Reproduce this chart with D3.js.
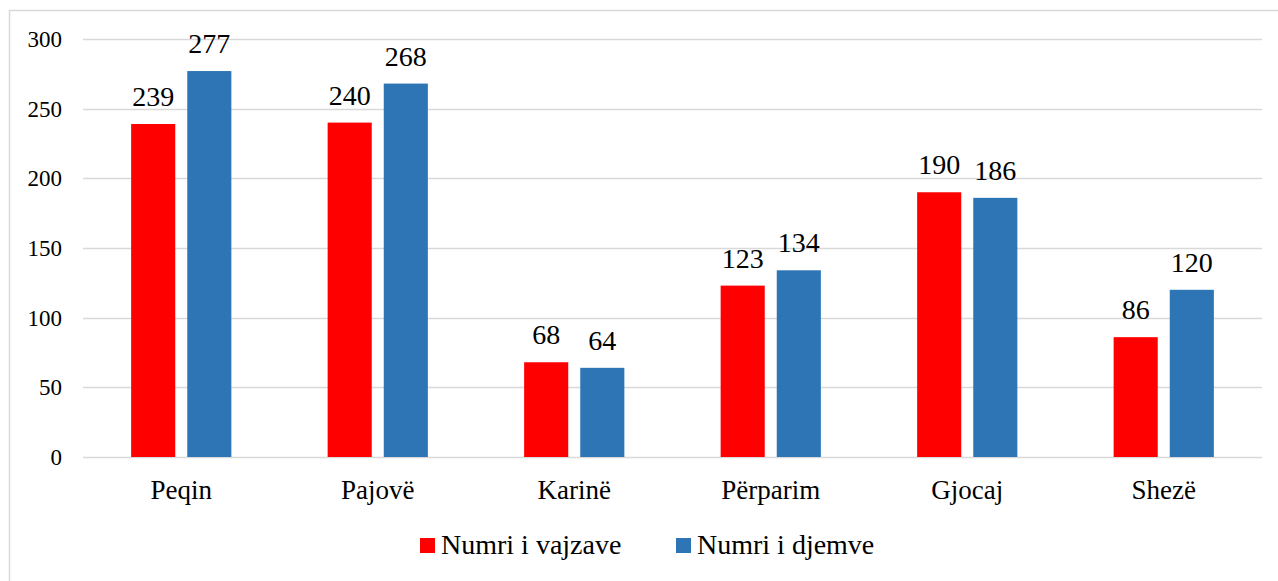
<!DOCTYPE html>
<html>
<head>
<meta charset="utf-8">
<script src="https://cdn.jsdelivr.net/npm/d3@7"></script>
</head>
<body style="margin:0">
<svg id="s" width="1278" height="581"></svg>
<script>
// data
var villages = ["Peqin", "Pajovë", "Karinë", "Përparim", "Gjocaj", "Shezë"];
var girls = [239, 240, 68, 123, 190, 86];
var boys = [277, 268, 64, 134, 186, 120];
var seriesNames = ["Numri i vajzave", "Numri i djemve"];
var seriesColors = ["#ff0000", "#2e75b6"];
var yTicks = [0, 50, 100, 150, 200, 250, 300];

var serif = "'Liberation Serif'";
var svg = d3.select("#s");

// outer frame, right and bottom edges run off the page
svg.append("rect")
    .attr("x", 9.5).attr("y", 10.5)
    .attr("width", 1290).attr("height", 600)
    .attr("fill", "none")
    .attr("stroke", "#d9d9d9")
    .attr("stroke-width", 1.5);

var plot = {left: 83, right: 1262, top: 39, bottom: 457};

var x = d3.scaleBand().domain(villages).range([plot.left, plot.right]);
var groupW = x.bandwidth() * 0.51;
var x1 = d3.scaleBand().domain(seriesNames).range([0, groupW]).paddingInner(0.214);
var y = d3.scaleLinear().domain([0, 300]).range([plot.bottom, plot.top]);

// gridlines
svg.append("g").selectAll("line")
    .data(yTicks)
    .enter().append("line")
    .attr("x1", plot.left).attr("x2", plot.right)
    .attr("y1", function(d){ return Math.round(y(d)) + 0.5; })
    .attr("y2", function(d){ return Math.round(y(d)) + 0.5; })
    .attr("stroke", "#d9d9d9")
    .attr("stroke-width", 1.5);

// y tick labels
svg.append("g").selectAll("text")
    .data(yTicks)
    .enter().append("text")
    .attr("font-family", serif)
    .attr("font-size", 23)
    .attr("x", 62)
    .attr("y", function(d){ return y(d) + 8; })
    .attr("text-anchor", "end")
    .text(function(d){ return d; });

var rows = villages.map(function(v, i){
    return {name: v, vals: [girls[i], boys[i]]};
});

var groups = svg.append("g").selectAll("g.group")
    .data(rows)
    .enter().append("g")
    .attr("transform", function(d){
        return "translate(" + (x(d.name) + (x.bandwidth() - groupW) / 2) + ",0)";
    });

groups.selectAll("rect")
    .data(function(d){ return d.vals.map(function(v, j){ return {s: seriesNames[j], v: v, j: j}; }); })
    .enter().append("rect")
    .attr("x", function(d){ return x1(d.s); })
    .attr("y", function(d){ return y(d.v); })
    .attr("width", x1.bandwidth())
    .attr("height", function(d){ return y(0) - y(d.v); })
    .attr("fill", function(d){ return seriesColors[d.j]; });

groups.selectAll("text")
    .data(function(d){ return d.vals.map(function(v, j){ return {s: seriesNames[j], v: v}; }); })
    .enter().append("text")
    .attr("font-family", serif)
    .attr("font-size", 28)
    .attr("x", function(d){ return x1(d.s) + x1.bandwidth() / 2; })
    .attr("y", function(d){ return y(d.v) - 18; })
    .attr("text-anchor", "middle")
    .text(function(d){ return d.v; });

// category labels
svg.append("g").selectAll("text")
    .data(villages)
    .enter().append("text")
    .attr("font-family", serif)
    .attr("font-size", 27)
    .attr("x", function(d){ return x(d) + x.bandwidth() / 2; })
    .attr("y", 499)
    .attr("text-anchor", "middle")
    .text(function(d){ return d; });

// legend
var legendX = [420, 676];
var legend = svg.append("g").selectAll("g")
    .data(seriesNames)
    .enter().append("g")
    .attr("transform", function(d, i){ return "translate(" + legendX[i] + ",0)"; });
legend.append("rect")
    .attr("x", 0).attr("y", 538)
    .attr("width", 15).attr("height", 15)
    .attr("fill", function(d, i){ return seriesColors[i]; });
legend.append("text")
    .attr("font-family", serif)
    .attr("font-size", 28)
    .attr("x", 21).attr("y", 554)
    .text(function(d){ return d; });
</script>
</body>
</html>
